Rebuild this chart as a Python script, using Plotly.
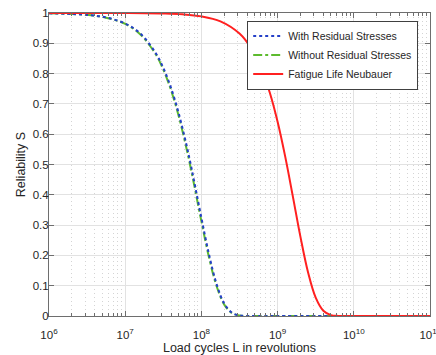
import plotly.graph_objects as go

# Load cycles (revolutions), read at log-spaced positions
L_fast = [1e6, 10**6.25, 10**6.5, 10**6.75, 1e7, 10**7.2, 10**7.4, 10**7.5, 10**7.6, 10**7.7,
          10**7.8, 10**7.85, 10**7.9, 1e8, 10**8.1, 10**8.2, 10**8.3, 10**8.4, 10**8.5,
          10**8.6, 10**8.8, 1e9, 1e10, 1e11]
S_with = [0.9989, 0.9973, 0.9937, 0.9851, 0.9652, 0.932, 0.868, 0.819, 0.754, 0.671,
          0.569, 0.512, 0.451, 0.324, 0.203, 0.105, 0.041, 0.011, 0.0018,
          0.0002, 0.0, 0.0, 0.0, 0.0]
S_without = [0.9988, 0.9972, 0.9935, 0.9846, 0.9639, 0.929, 0.8636, 0.813, 0.7465, 0.6617,
             0.558, 0.500, 0.4387, 0.3123, 0.193, 0.098, 0.0376, 0.0097, 0.0014,
             0.0001, 0.0, 0.0, 0.0, 0.0]

L_neub = [1e6, 10**6.5, 1e7, 10**7.5, 10**7.75, 1e8, 10**8.25, 10**8.5, 10**8.65, 10**8.8,
          10**8.9, 1e9, 10**9.1, 10**9.2, 10**9.3, 10**9.4, 10**9.5, 10**9.6, 10**9.7,
          10**9.8, 1e10, 10**10.5, 1e11]
S_neub = [1.0, 1.0, 0.9997, 0.9982, 0.9956, 0.9889, 0.9723, 0.932, 0.8847, 0.8083,
          0.7352, 0.641, 0.5259, 0.395, 0.261, 0.1436, 0.0605, 0.0173, 0.0029,
          0.0002, 0.0, 0.0, 0.0]

x_tickvals = [1e6, 1e7, 1e8, 1e9, 1e10, 1e11]
x_ticktext = ["10<sup>6</sup>", "10<sup>7</sup>", "10<sup>8</sup>", "10<sup>9</sup>",
              "10<sup>10</sup>", "10<sup>11</sup>"]
x_minor = [m * 10**e for e in range(6, 11) for m in range(2, 10)]

fig = go.Figure()
fig.add_trace(go.Scatter(x=L_fast, y=S_without, mode="lines", name="Without Residual Stresses",
                         line=dict(color="#5dbb2e", width=2, dash="dashdot", shape="spline"),
                         legendrank=2))
fig.add_trace(go.Scatter(x=L_fast, y=S_with, mode="lines", name="With Residual Stresses",
                         line=dict(color="#2540c8", width=2, dash="dot", shape="spline"),
                         legendrank=1))
fig.add_trace(go.Scatter(x=L_neub, y=S_neub, mode="lines", name="Fatigue Life Neubauer",
                         line=dict(color="#ff2020", width=2, shape="spline"),
                         legendrank=3))

axis_col = "#6e6e6e"
fig.update_layout(
    width=436, height=355,
    margin=dict(l=49, r=6, t=13, b=39, autoexpand=False),
    paper_bgcolor="white", plot_bgcolor="white",
    font=dict(family="Liberation Sans, Arial, sans-serif", size=11.5, color="#262626"),
    showlegend=True,
    legend=dict(x=0.969, xanchor="right", y=0.975, yanchor="top",
                bgcolor="white", bordercolor="#404040", borderwidth=1,
                font=dict(size=10.5), tracegroupgap=0,
                itemwidth=30),
    xaxis=dict(type="log", range=[6, 11], automargin=False,
               tickmode="array", tickvals=x_tickvals, ticktext=x_ticktext,
               ticklabeloverflow="allow", ticklabelstandoff=8,
               ticks="inside", ticklen=5, tickcolor=axis_col,
               showline=True, linecolor=axis_col, linewidth=1, mirror="ticks",
               showgrid=True, gridcolor="#e2e2e2", gridwidth=1,
               minor=dict(tickmode="array", tickvals=x_minor, ticks="inside", ticklen=3,
                          tickcolor=axis_col, showgrid=True, gridcolor="#d4d4d4",
                          griddash="1px,3px", gridwidth=1),
               zeroline=False,
               title=dict(text="Load cycles L in revolutions", font=dict(size=12.5), standoff=3)),
    yaxis=dict(range=[0, 1], dtick=0.1, tick0=0, automargin=False,
               ticklabelstandoff=-3,
               ticks="inside", ticklen=5, tickcolor=axis_col,
               showline=True, linecolor=axis_col, linewidth=1, mirror="ticks",
               showgrid=True, gridcolor="#e2e2e2", gridwidth=1,
               zeroline=False,
               title=dict(text="Reliability S", font=dict(size=12.5), standoff=4)),
)

fig.write_html("out.html", config={"displayModeBar": False},
               post_script="document.body.style.margin='0';")
